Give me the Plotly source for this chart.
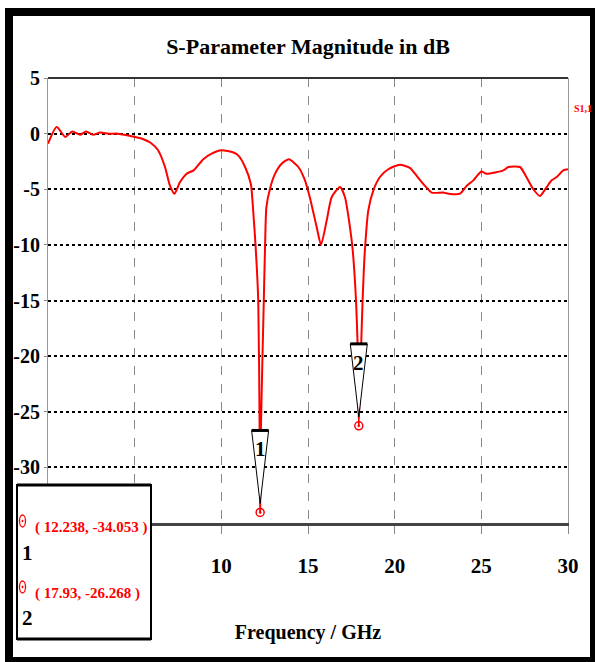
import plotly.graph_objects as go

# ---------------- data ----------------
freq_ghz = [0.0, 0.5, 1.0, 1.4, 1.85, 2.2, 2.6, 3.0, 3.5, 4.0, 4.4, 5.0, 5.5, 5.9,
            6.35, 6.75, 7.04, 7.3, 7.6, 8.0, 8.4, 8.96, 9.44, 10.0, 10.7, 11.0,
            11.37, 11.7, 11.85, 11.98, 12.13, 12.21, 12.238, 12.28, 12.45, 12.52,
            12.6, 12.8, 13.1, 13.48, 13.9, 14.44, 14.8, 15.1, 15.5, 15.75, 16.08,
            16.37, 16.85, 17.13, 17.42, 17.58, 17.77, 17.86, 17.93, 18.07, 18.15,
            18.27, 18.48, 18.77, 19.15, 19.63, 20.3, 20.9, 21.17, 21.75, 22.13,
            22.8, 23.1, 23.77, 24.15, 24.54, 25.0, 25.3, 26.27, 26.56, 27.23, 27.6,
            28.0, 28.38, 28.77, 29.06, 29.35, 29.73, 30.0]
s11_db = [-0.9, 0.6, -0.3, 0.2, -0.1, 0.2, -0.1, 0.1, 0.0, 0.0, -0.1, -0.3, -0.5, -0.8,
          -1.5, -3.0, -4.7, -5.4, -4.4, -3.6, -3.3, -2.3, -1.8, -1.5, -1.7, -2.0,
          -3.0, -4.5, -7.2, -10.2, -15.0, -26.8, -34.053, -26.8, -15.0, -10.3,
          -6.6, -5.0, -3.6, -2.7, -2.3, -3.0, -4.1, -5.7, -8.4, -10.0, -7.8,
          -5.7, -4.8, -5.7, -8.4, -10.5, -15.0, -18.9, -26.268, -18.9, -15.0,
          -10.8, -6.9, -5.1, -3.9, -3.2, -2.8, -3.1, -3.6, -4.7, -5.3,
          -5.3, -5.4, -5.4, -4.7, -4.2, -3.4, -3.6, -3.3, -3.0, -3.0, -3.9,
          -5.0, -5.6, -4.8, -4.2, -3.9, -3.3, -3.2]
marker_freq = [12.238, 17.93]
marker_db = [-34.053, -26.268]
marker_ids = ["1", "2"]
x_ticks = [0, 5, 10, 15, 20, 25, 30]
x_tick_labels = ["", "", "10", "15", "20", "25", "30"]   # 0 and 5 hidden behind the readout box
y_ticks = [5, 0, -5, -10, -15, -20, -25, -30, -35]
y_tick_labels = ["5", "0", "-5", "-10", "-15", "-20", "-25", "-30", ""]
series_name = "S1,1"

# ---------------- layout geometry ----------------
W, H = 595, 662
L, R, T, B = 48, 27, 78, 139
PW, PH = W - L - R, H - T - B
X_RANGE = [0, 30]
Y_RANGE = [-35, 5]
PX_PER_GHZ = PW / (X_RANGE[1] - X_RANGE[0])
PX_PER_DB = PH / (Y_RANGE[1] - Y_RANGE[0])


def px_x(px):
    return (px - L) / PW


def px_y(py):
    return (H - B - py) / PH


SERIF = "Liberation Serif, Times New Roman, serif"
RED = "#ff0000"

fig = go.Figure()
fig.add_trace(go.Scatter(
    x=freq_ghz, y=s11_db, mode="lines", name=series_name,
    line=dict(color=RED, width=2, shape="spline", smoothing=0.6),
    showlegend=False, hoverinfo="x+y"))
fig.add_trace(go.Scatter(
    x=marker_freq, y=marker_db, mode="markers", showlegend=False,
    marker=dict(symbol="circle-open-dot", color=RED, size=8,
                line=dict(color=RED, width=1.5)),
    cliponaxis=False))

shapes = []
annotations = []

# marker flags (inverted triangles)
hw = 8.5 / PX_PER_GHZ
for mx, my, mid in zip(marker_freq, marker_db, marker_ids):
    apex = my + 9 / PX_PER_DB
    top = my + 82 / PX_PER_DB
    shapes.append(dict(type="path", xref="x", yref="y", layer="above",
                       path=f"M {mx - hw},{top} L {mx + hw},{top} L {mx},{apex} Z",
                       fillcolor="white", line=dict(color="black", width=1)))
    shapes.append(dict(type="line", xref="x", yref="y", layer="above",
                       x0=mx - hw, x1=mx + hw, y0=top, y1=top,
                       line=dict(color="black", width=3)))
    annotations.append(dict(xref="x", yref="y", x=mx, y=my + 63 / PX_PER_DB,
                            text=mid, showarrow=False,
                            font=dict(family=SERIF, size=21, color="black", weight="bold")))

# top frame line of the plot area
shapes.append(dict(type="line", xref="paper", yref="paper", x0=0, x1=1, y0=1, y1=1,
                   line=dict(color="#333333", width=2), layer="above"))

# marker readout box
bx0, bx1, by0, by1 = px_x(17), px_x(151), px_y(639), px_y(485)
shapes.append(dict(type="rect", xref="paper", yref="paper", layer="above",
                   x0=bx0, x1=bx1, y0=by0, y1=by1, fillcolor="white",
                   line=dict(color="black", width=2)))
for yy in (by0, by1):
    shapes.append(dict(type="line", xref="paper", yref="paper", layer="above",
                       x0=bx0, x1=bx1, y0=yy, y1=yy, line=dict(color="black", width=3)))

row_text_py = [527, 593]
row_id_py = [553, 618]
row_dot_py = [521, 587]
for mx, my, mid, tpy, ipy, dpy in zip(marker_freq, marker_db, marker_ids,
                                       row_text_py, row_id_py, row_dot_py):
    annotations.append(dict(xref="paper", yref="paper", x=px_x(33), y=px_y(tpy),
                            xanchor="left", yanchor="middle", showarrow=False,
                            text=f"( {mx}, {my} )",
                            font=dict(family=SERIF, size=15, color=RED, weight="bold")))
    annotations.append(dict(xref="paper", yref="paper", x=px_x(27), y=px_y(ipy),
                            xanchor="center", yanchor="middle", showarrow=False,
                            text=mid,
                            font=dict(family=SERIF, size=21, color="black", weight="bold")))
    shapes.append(dict(type="circle", xref="paper", yref="paper", layer="above",
                       x0=px_x(19.5), x1=px_x(25.5), y0=px_y(dpy + 6), y1=px_y(dpy - 6),
                       line=dict(color=RED, width=1.3)))
    shapes.append(dict(type="circle", xref="paper", yref="paper", layer="above",
                       x0=px_x(21.6), x1=px_x(23.4), y0=px_y(dpy + 1.2), y1=px_y(dpy - 1.2),
                       fillcolor=RED, line=dict(color=RED, width=0)))

# series label at right
annotations.append(dict(xref="paper", yref="paper", x=px_x(583), y=px_y(101),
                        text=series_name, showarrow=False, xanchor="center",
                        font=dict(family=SERIF, size=10, color=RED, weight="bold")))

# outer black frame
shapes.append(dict(type="rect", xref="paper", yref="paper", layer="above",
                   x0=px_x(9), x1=px_x(594), y0=px_y(661), y1=px_y(12),
                   line=dict(color="black", width=8)))

fig.update_layout(
    width=W, height=H,
    margin=dict(l=L, r=R, t=T, b=B, pad=0),
    paper_bgcolor="white", plot_bgcolor="white",
    title=dict(text="S-Parameter Magnitude in dB", x=0.5, xref="paper",
               y=1 - 46 / H, yref="container", xanchor="center", yanchor="middle",
               font=dict(family=SERIF, size=22, color="black", weight="bold")),
    shapes=shapes, annotations=annotations,
    showlegend=False,
)
fig.update_xaxes(
    range=X_RANGE, tickvals=x_ticks, ticktext=x_tick_labels,
    showgrid=True, gridcolor="#888888", griddash="dash", gridwidth=1,
    zeroline=False, showline=True, linecolor="#444444", linewidth=3,
    ticks="outside", ticklen=8, tickcolor="#888888", tickwidth=1,
    ticklabelstandoff=14,
    tickfont=dict(family=SERIF, size=21, color="black", weight="bold"),
    title=dict(text="Frequency / GHz", standoff=48,
               font=dict(family=SERIF, size=20, color="black", weight="bold")),
)
fig.update_yaxes(
    range=Y_RANGE, tickvals=y_ticks, ticktext=y_tick_labels,
    showgrid=True, gridcolor="black", griddash="dot", gridwidth=1.5,
    zeroline=False, showline=True, linecolor="#999999", linewidth=1, mirror=True,
    ticks="outside", ticklen=3, tickcolor="#888888",
    tickfont=dict(family=SERIF, size=20, color="black", weight="bold"),
)

fig.write_html("out.html", config={"displayModeBar": False},
               post_script="document.body.style.margin='0';document.body.style.padding='0';")
